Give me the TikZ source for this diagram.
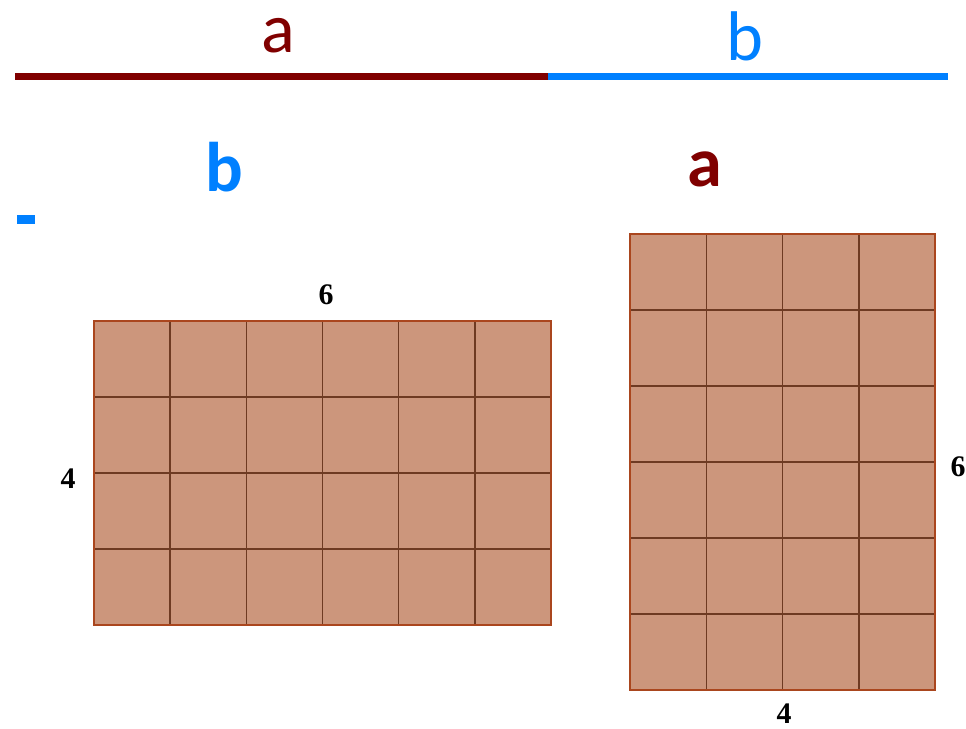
\documentclass[tikz,border=0pt]{standalone}
\usepackage{fontspec}
\setmainfont{Liberation Serif}
\newfontfamily\lettre{Carlito}
\definecolor{rougefonce}{RGB}{128,0,0}
\definecolor{bleu}{RGB}{0,128,255}
\definecolor{brique}{RGB}{204,150,124}
\definecolor{joint}{RGB}{110,58,34}
\definecolor{bord}{RGB}{170,70,30}
\begin{document}
\begin{tikzpicture}[x=0.02cm, y=-0.02cm]
				\useasboundingbox (0,0) rectangle (966,729);
				\draw[line width=7*0.02cm, rougefonce] (15,77) coordinate (segA) -- (548,77) coordinate (milieu);
				\draw[line width=7*0.02cm, bleu] (milieu) -- (948,77) coordinate (segB);
				\node[rougefonce, font=\lettre\fontsize{40}{40}\selectfont] (lettreA) at (278,36) {a};
				\node[bleu, font=\lettre\fontsize{40}{40}\selectfont] (lettreB) at (745,36) {b};
				\node[bleu, font=\lettre\bfseries\fontsize{40}{40}\selectfont] (lettreB2) at (224,167) {b};
				\node[rougefonce, font=\lettre\bfseries\fontsize{40}{40}\selectfont] (lettreA2) at (705,169) {a};
				\fill[bleu] (17,215) rectangle (35,224);
				% rectangle 6 x 4
				\fill[brique] (94,321) rectangle (551,625);
				\foreach \i in {1,...,5} \draw[joint, line width=0.03cm] (94+\i*76.17,321) -- (94+\i*76.17,625);
				\foreach \j in {1,2,3} \draw[joint, line width=0.03cm] (94,321+\j*76) -- (551,321+\j*76);
				\draw[bord, line width=0.03cm] (94,321) rectangle (551,625);
				\node[font=\bfseries\fontsize{17}{17}\selectfont] (hautG) at (326,295) {6};
				\node[font=\bfseries\fontsize{17}{17}\selectfont] (coteG) at (68,479) {4};
				% rectangle 4 x 6
				\fill[brique] (630,234) rectangle (935,690);
				\foreach \i in {1,2,3} \draw[joint, line width=0.03cm] (630+\i*76.25,234) -- (630+\i*76.25,690);
				\foreach \j in {1,...,5} \draw[joint, line width=0.03cm] (630,234+\j*76) -- (935,234+\j*76);
				\draw[bord, line width=0.03cm] (630,234) rectangle (935,690);
				\node[font=\bfseries\fontsize{17}{17}\selectfont] (coteD) at (958,467) {6};
				\node[font=\bfseries\fontsize{17}{17}\selectfont, inner sep=1pt] (basD) at (784,714) {4};
\end{tikzpicture}
\end{document}
